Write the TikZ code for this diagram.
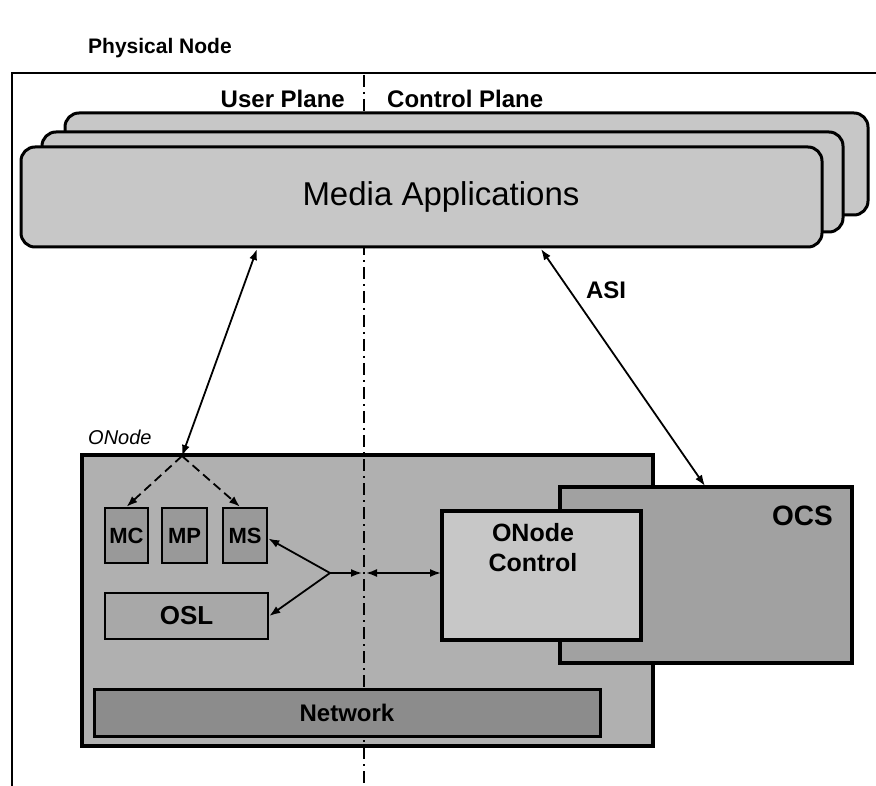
\documentclass[tikz,border=0pt]{standalone}
\usepackage{fontspec}
\setmainfont{Liberation Sans}
\usetikzlibrary{arrows.meta}
\definecolor{mediagray}{gray}{0.78}
\definecolor{onodegray}{gray}{0.69}
\definecolor{smallgray}{gray}{0.60}
\definecolor{oslgray}{gray}{0.66}
\definecolor{netgray}{gray}{0.55}
\definecolor{ocsgray}{gray}{0.63}
\definecolor{ctrlgray}{gray}{0.78}
\tikzset{
  mediabox/.style={draw=black, line width=3pt, fill=mediagray, rounded corners=14pt, inner sep=0pt},
  bigbox/.style={draw=black, line width=4pt, inner sep=0pt},
  smallbox/.style={draw=black, line width=2.5pt, fill=smallgray, inner sep=0pt, font=\fontsize{22}{24}\selectfont\bfseries},
  lbl/.style={inner sep=0pt, font=\fontsize{24}{28}\selectfont\bfseries},
  tip/.style={-{Latex[length=11pt,width=8pt]}},
  dtip/.style={{Latex[length=11pt,width=8pt]}-{Latex[length=11pt,width=8pt]}},
  conn/.style={line width=1.8pt},
  planeline/.style={line width=2pt, dash pattern=on 12pt off 5pt on 2pt off 5pt}
}
\begin{document}
\begin{tikzpicture}[x=1pt,y=-1pt]
\useasboundingbox (0,0) rectangle (876,786);
% frame
\draw[line width=1.6pt] (12,786) -- (12,73) -- (876,73);
\node[lbl, font=\fontsize{21}{24}\selectfont\bfseries, anchor=west] (phys) at (88,48) {Physical Node};
\node[lbl, anchor=east] (user) at (345,99) {User Plane};
\node[lbl, anchor=west] (ctrl) at (387,99) {Control Plane};
% ONode box
\node[bigbox, fill=onodegray, minimum width=571pt, minimum height=291pt] (onode) at (367.5,600.5) {};
% plane separator
\draw[planeline] (364,75) -- (364,786);
% media applications
\node[mediabox, minimum width=803pt, minimum height=102pt] (ma3) at (466.5,164) {};
\node[mediabox, minimum width=801pt, minimum height=100pt] (ma2) at (442.5,182) {};
\node[mediabox, minimum width=801pt, minimum height=100pt] (ma1) at (421.5,197) {};
\node[inner sep=0pt, font=\fontsize{33}{36}\selectfont] (matext) at (441,197) {Media Applications};
% ONode contents
\node[font=\fontsize{20}{24}\selectfont\itshape, anchor=west, inner sep=0pt] (onodelbl) at (88,437) {ONode};
\node[smallbox, minimum width=43pt, minimum height=55pt] (mc) at (126.5,535.5) {MC};
\node[smallbox, minimum width=45pt, minimum height=55pt] (mp) at (184.5,535.5) {MP};
\node[smallbox, minimum width=44pt, minimum height=55pt] (ms) at (245,535.5) {MS};
\node[draw=black, line width=2.5pt, fill=oslgray, inner sep=0pt, minimum width=163pt, minimum height=46pt, font=\fontsize{26}{28}\selectfont\bfseries] (osl) at (186.5,616) {OSL};
\node[draw=black, line width=3pt, fill=netgray, inner sep=0pt, minimum width=506pt, minimum height=47pt, font=\fontsize{24}{26}\selectfont\bfseries] (net) at (347,712.5) {Network};
% OCS and ONode Control
\node[bigbox, fill=ocsgray, minimum width=292pt, minimum height=176pt] (ocs) at (706,575) {};
\node[lbl, font=\fontsize{28}{30}\selectfont\bfseries, anchor=east] (ocstext) at (833,516) {OCS};
\node[bigbox, fill=ctrlgray, minimum width=199pt, minimum height=129pt] (onc) at (541.5,575.5) {};
\node[lbl, font=\fontsize{25}{30}\selectfont\bfseries, align=center] (onctext) at (533,548) {ONode\\Control};
% connectors
\coordinate (maL) at (257,249);
\coordinate (onTop) at (182,456);
\coordinate (maR) at (541,249);
\coordinate (ocsTop) at (705,486);
\coordinate (junc) at (330,573);
\coordinate (sepL) at (362,573);
\coordinate (sepR) at (366,573);
\coordinate (oncW) at (441,573);
\draw[conn, dtip] (maL) -- (onTop);
\draw[conn, dtip] (maR) -- (ocsTop);
\node[lbl, font=\fontsize{24}{26}\selectfont\bfseries] (asi) at (606,290) {ASI};
\draw[conn, tip, dash pattern=on 9pt off 5pt] (onTop) -- (mc.north);
\draw[conn, tip, dash pattern=on 9pt off 5pt] (onTop) -- ([xshift=-5pt]ms.north);
\draw[conn, tip] (junc) -- ([yshift=-3pt]ms.east);
\draw[conn, tip] (junc) -- (osl.east);
\draw[conn, tip] (junc) -- (sepL);
\draw[conn, dtip] (sepR) -- (oncW);
\end{tikzpicture}
\end{document}
